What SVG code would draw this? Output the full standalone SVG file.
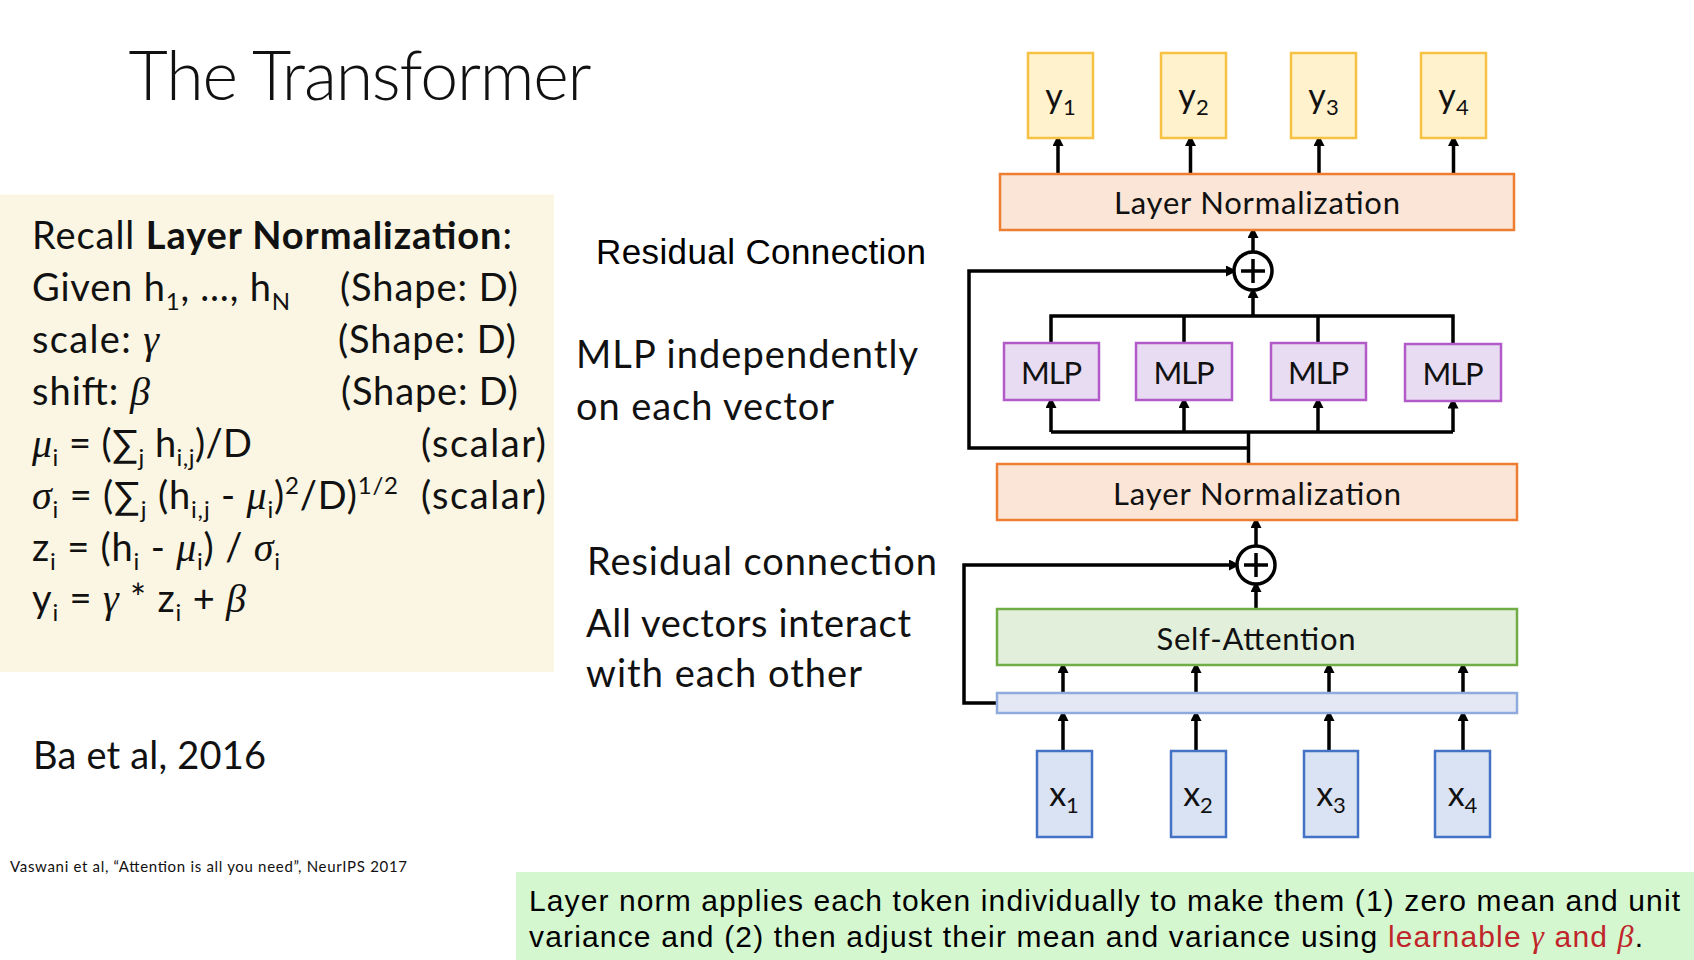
<svg xmlns="http://www.w3.org/2000/svg" width="1694" height="960" viewBox="0 0 1694 960">
  <defs>
    <style>
      .cal { font-family: Lato, "Noto Sans", "DejaVu Sans", sans-serif; fill: #111; }
      .gk { font-family: "Liberation Serif", "DejaVu Serif", serif; font-style: italic; }
      .ar { font-family: "Liberation Sans", Arial, sans-serif; fill: #000; }
      .p { font-size: 38px; }
      .sb { font-size: 24px; }
      .lbl { font-size: 31px; text-anchor: middle; }
      .tok { font-size: 34px; text-anchor: middle; }
      .tsub { font-size: 22px; }
      .ybox { fill: #FFF2CC; stroke: #F7C244; stroke-width: 2.5; }
      .xbox { fill: #DAE3F3; stroke: #4472C4; stroke-width: 2.5; }
      .ln { fill: #FBE5D6; stroke: #ED7D31; stroke-width: 2.5; }
      .mlp { fill: #E7DCF1; stroke: #B25BC8; stroke-width: 2.5; }
      .sa { fill: #E2EFDA; stroke: #70AD47; stroke-width: 2.5; }
      .bar { fill: #E3E8F4; stroke: #8FAADC; stroke-width: 2.5; }
      .wire { fill: none; stroke: #000; stroke-width: 3.5; }
      .arr { fill: none; stroke: #000; stroke-width: 3.5; marker-end: url(#tip); }
      .sum { fill: #fff; stroke: #000; stroke-width: 3.5; }
    </style>
    <marker id="tip" markerUnits="userSpaceOnUse" markerWidth="12" markerHeight="12" refX="8" refY="5.5" orient="auto">
      <path d="M0,0 L11,5.5 L0,11 z" fill="#000"/>
    </marker>
  </defs>

  <rect width="1694" height="960" fill="#fff"/>

  <!-- title -->
  <text x="128.6" y="99.5" class="cal" font-size="68" font-weight="300" textLength="463">The Transformer</text>

  <!-- layer norm recap panel -->
  <g id="recap">
    <rect x="0" y="194.5" width="554" height="477.5" fill="#FAF6E3"/>
    <text x="32" y="249" class="cal p" textLength="480">Recall <tspan font-weight="bold">Layer Normalization</tspan>:</text>
    <text x="32" y="301" class="cal p" textLength="258">Given h<tspan class="sb" dy="9">1</tspan><tspan dy="-9">, …, h</tspan><tspan class="sb" dy="9">N</tspan></text>
    <text x="340" y="301" class="cal p" textLength="178">(Shape: D)</text>
    <text x="32" y="353" class="cal p" textLength="127">scale: <tspan class="gk" font-size="40">γ</tspan></text>
    <text x="338" y="353" class="cal p" textLength="178">(Shape: D)</text>
    <text x="32" y="405" class="cal p" textLength="118">shift: <tspan class="gk" font-size="40">β</tspan></text>
    <text x="341" y="405" class="cal p" textLength="177">(Shape: D)</text>
    <text x="32" y="457" class="cal p" textLength="220"><tspan class="gk" font-size="40">μ</tspan><tspan class="sb" dy="9">i</tspan><tspan dy="-9"> = (∑</tspan><tspan class="sb" dy="9">j</tspan><tspan dy="-9"> h</tspan><tspan class="sb" dy="9">i,j</tspan><tspan dy="-9">)/D</tspan></text>
    <text x="421" y="457" class="cal p" textLength="125">(scalar)</text>
    <text x="32" y="509" class="cal p" textLength="366"><tspan class="gk" font-size="40">σ</tspan><tspan class="sb" dy="9">i</tspan><tspan dy="-9"> = (∑</tspan><tspan class="sb" dy="9">j</tspan><tspan dy="-9"> (h</tspan><tspan class="sb" dy="9">i,j</tspan><tspan dy="-9"> - </tspan><tspan class="gk" font-size="40">μ</tspan><tspan class="sb" dy="9">i</tspan><tspan dy="-9">)</tspan><tspan class="sb" dy="-15">2</tspan><tspan dy="15">/D)</tspan><tspan class="sb" dy="-15">1/2</tspan></text>
    <text x="421" y="509" class="cal p" textLength="125">(scalar)</text>
    <text x="32" y="561" class="cal p" textLength="248">z<tspan class="sb" dy="9">i</tspan><tspan dy="-9"> = (h</tspan><tspan class="sb" dy="9">i</tspan><tspan dy="-9"> - </tspan><tspan class="gk" font-size="40">μ</tspan><tspan class="sb" dy="9">i</tspan><tspan dy="-9">) / </tspan><tspan class="gk" font-size="40">σ</tspan><tspan class="sb" dy="9">i</tspan></text>
    <text x="32" y="612" class="cal p" textLength="214">y<tspan class="sb" dy="9">i</tspan><tspan dy="-9"> = </tspan><tspan class="gk" font-size="40">γ</tspan><tspan> * z</tspan><tspan class="sb" dy="9">i</tspan><tspan dy="-9"> + </tspan><tspan class="gk" font-size="40">β</tspan></text>
  </g>

  <text x="33" y="769" class="cal p" textLength="233">Ba et al, 2016</text>
  <text x="10" y="872" class="cal" font-size="15" textLength="397">Vaswani et al, “Attention is all you need”, NeurIPS 2017</text>

  <!-- side annotations -->
  <text x="596" y="264" class="ar" font-size="35" textLength="330">Residual Connection</text>
  <text x="576" y="368" class="cal p" textLength="342">MLP independently</text>
  <text x="576" y="420" class="cal p" textLength="258">on each vector</text>
  <text x="587" y="575" class="cal p" textLength="350">Residual connection</text>
  <text x="586" y="637" class="cal p" textLength="325">All vectors interact</text>
  <text x="586" y="687" class="cal p" textLength="276">with each other</text>

  <!-- connectors -->
  <g id="connectors">
    <!-- layer norm to outputs -->
    <line class="arr" x1="1058" y1="174" x2="1058" y2="138"/>
    <line class="arr" x1="1190.5" y1="174" x2="1190.5" y2="138"/>
    <line class="arr" x1="1319" y1="174" x2="1319" y2="138"/>
    <line class="arr" x1="1453.5" y1="174" x2="1453.5" y2="138"/>
    <!-- upper residual add -->
    <line class="arr" x1="1253" y1="252" x2="1253" y2="230"/>
    <path class="arr" d="M1248.5,448 H969 V271 H1234"/>
    <path class="wire" d="M1051,343 V316 H1453 V343 M1184,343 V316 M1318,343 V316"/>
    <line class="arr" x1="1253" y1="316" x2="1253" y2="290"/>
    <!-- MLP inputs -->
    <path class="wire" d="M1051,432 H1453"/>
    <line class="arr" x1="1051" y1="432" x2="1051" y2="400"/>
    <line class="arr" x1="1184" y1="432" x2="1184" y2="400"/>
    <line class="arr" x1="1318" y1="432" x2="1318" y2="400"/>
    <line class="arr" x1="1453" y1="432" x2="1453" y2="400.5"/>
    <line class="wire" x1="1248.5" y1="464" x2="1248.5" y2="432" stroke-width="6"/>
    <!-- lower residual add -->
    <line class="arr" x1="1256" y1="546" x2="1256" y2="520"/>
    <path class="arr" d="M997,703 H964 V565 H1237"/>
    <line class="arr" x1="1256" y1="609" x2="1256" y2="584"/>
    <!-- embeddings to self-attention -->
    <line class="arr" x1="1063" y1="693" x2="1063" y2="665"/>
    <line class="arr" x1="1196" y1="693" x2="1196" y2="665"/>
    <line class="arr" x1="1329" y1="693" x2="1329" y2="665"/>
    <line class="arr" x1="1463" y1="693" x2="1463" y2="665"/>
    <line class="arr" x1="1063" y1="751" x2="1063" y2="713"/>
    <line class="arr" x1="1196" y1="751" x2="1196" y2="713"/>
    <line class="arr" x1="1329" y1="751" x2="1329" y2="713"/>
    <line class="arr" x1="1463" y1="751" x2="1463" y2="713"/>
  </g>

  <!-- outputs -->
  <g id="y1"><rect class="ybox" x="1028" y="53" width="65" height="85"/><text class="cal tok" x="1060.5" y="108">y<tspan class="tsub" dy="7">1</tspan></text></g>
  <g id="y2"><rect class="ybox" x="1161" y="53" width="65" height="85"/><text class="cal tok" x="1193.5" y="108">y<tspan class="tsub" dy="7">2</tspan></text></g>
  <g id="y3"><rect class="ybox" x="1291" y="53" width="65" height="85"/><text class="cal tok" x="1323.5" y="108">y<tspan class="tsub" dy="7">3</tspan></text></g>
  <g id="y4"><rect class="ybox" x="1421" y="53" width="65" height="85"/><text class="cal tok" x="1453.5" y="108">y<tspan class="tsub" dy="7">4</tspan></text></g>

  <g id="layernorm-top">
    <rect class="ln" x="1000" y="174" width="514" height="56"/>
    <text class="cal lbl" x="1257" y="214" textLength="286">Layer Normalization</text>
  </g>

  <g id="add-top">
    <circle class="sum" cx="1253" cy="271" r="19"/>
    <path class="wire" d="M1241,271 H1265 M1253,259 V283"/>
  </g>

  <g id="mlp1"><rect class="mlp" x="1004" y="343" width="95" height="57"/><text class="cal lbl" x="1051.5" y="384" textLength="61">MLP</text></g>
  <g id="mlp2"><rect class="mlp" x="1136" y="343" width="96" height="57"/><text class="cal lbl" x="1184" y="384" textLength="61">MLP</text></g>
  <g id="mlp3"><rect class="mlp" x="1271" y="343" width="95" height="57"/><text class="cal lbl" x="1318.5" y="384" textLength="61">MLP</text></g>
  <g id="mlp4"><rect class="mlp" x="1405" y="344" width="96" height="57"/><text class="cal lbl" x="1453" y="385" textLength="61">MLP</text></g>

  <g id="layernorm-mid">
    <rect class="ln" x="997" y="464" width="520" height="56"/>
    <text class="cal lbl" x="1257" y="505" textLength="288">Layer Normalization</text>
  </g>

  <g id="add-bottom">
    <circle class="sum" cx="1256" cy="565" r="19"/>
    <path class="wire" d="M1244,565 H1268 M1256,553 V577"/>
  </g>

  <g id="self-attention">
    <rect class="sa" x="997" y="609" width="520" height="56"/>
    <text class="cal lbl" x="1256" y="650" textLength="199">Self-Attention</text>
  </g>

  <g id="embed-bar">
    <rect class="bar" x="997" y="693" width="520" height="20"/>
  </g>

  <g id="x1"><rect class="xbox" x="1037" y="751" width="55" height="86"/><text class="cal tok" x="1064" y="806">x<tspan class="tsub" dy="7">1</tspan></text></g>
  <g id="x2"><rect class="xbox" x="1171" y="751" width="55" height="86"/><text class="cal tok" x="1198" y="806">x<tspan class="tsub" dy="7">2</tspan></text></g>
  <g id="x3"><rect class="xbox" x="1304" y="751" width="54" height="86"/><text class="cal tok" x="1331" y="806">x<tspan class="tsub" dy="7">3</tspan></text></g>
  <g id="x4"><rect class="xbox" x="1435" y="751" width="55" height="86"/><text class="cal tok" x="1462.5" y="806">x<tspan class="tsub" dy="7">4</tspan></text></g>

  <!-- summary note -->
  <g id="note">
    <rect x="516" y="872" width="1178" height="88" fill="#D4F7D0"/>
    <text x="529" y="911" class="ar" font-size="30" textLength="1151">Layer norm applies each token individually to make them (1) zero mean and unit</text>
    <text x="529" y="947" class="ar" font-size="30" textLength="1114">variance and (2) then adjust their mean and variance using <tspan fill="#C0252A">learnable </tspan><tspan fill="#C0252A" class="gk" font-size="32">γ</tspan><tspan fill="#C0252A"> and </tspan><tspan fill="#C0252A" class="gk" font-size="32">β</tspan>.</text>
  </g>
</svg>
